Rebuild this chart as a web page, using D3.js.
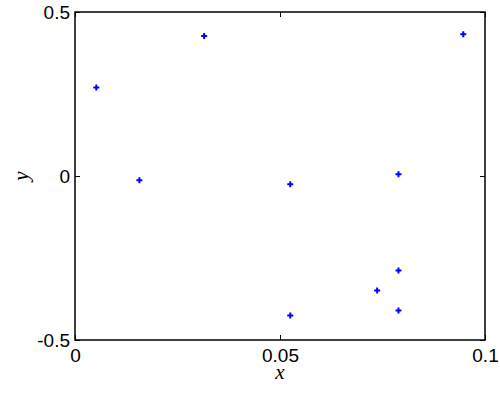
<!DOCTYPE html>
<html>
<head>
<meta charset="utf-8">
<script src="https://cdn.jsdelivr.net/npm/d3@7"></script>
<style>
  body { margin: 0; background: #fff; }
  svg { display: block; }
  .tick text { font-family: "Liberation Sans", Arial, sans-serif; font-size: 19px; fill: #000; }
  .label { font-family: "Liberation Serif", "DejaVu Serif", serif; font-style: italic; font-size: 21px; fill: #000; }
</style>
</head>
<body>
<div id="chart"></div>
<script>
// scatter values
const xValues = [0.0052, 0.0157, 0.0315, 0.0947, 0.0525, 0.0789, 0.0789, 0.0737, 0.0789, 0.0525];
const yValues = [0.270, -0.013, 0.427, 0.432, -0.025, 0.005, -0.288, -0.349, -0.410, -0.425];
const xTicks = [0, 0.05, 0.1];
const yTicks = [-0.5, 0, 0.5];
const xTickLabels = ["0", "0.05", "0.1"];
const yTickLabels = ["-0.5", "0", "0.5"];

const width = 500, height = 400;
const margin = {top: 12, right: 15, bottom: 60, left: 75};

const svg = d3.select("#chart").append("svg")
    .attr("width", width)
    .attr("height", height);

const xScale = d3.scaleLinear().domain([0, 0.1]).range([margin.left, width - margin.right]);
const yScale = d3.scaleLinear().domain([-0.5, 0.5]).range([height - margin.bottom, margin.top]);

const tickLen = 5;

// bottom axis, ticks point inward
svg.append("g")
    .attr("transform", `translate(0,${height - margin.bottom})`)
    .call(d3.axisBottom(xScale).tickValues(xTicks).tickSizeInner(-tickLen).tickSizeOuter(0).tickPadding(9)
        .tickFormat((d, i) => xTickLabels[i]))
    .call(g => g.select(".domain").remove());

// left axis
svg.append("g")
    .attr("transform", `translate(${margin.left},0)`)
    .call(d3.axisLeft(yScale).tickValues(yTicks).tickSizeInner(-tickLen).tickSizeOuter(0).tickPadding(5)
        .tickFormat((d, i) => yTickLabels[i]))
    .call(g => g.select(".domain").remove());

// top and right mirrored ticks, no labels
svg.append("g")
    .attr("transform", `translate(0,${margin.top})`)
    .call(d3.axisTop(xScale).tickValues(xTicks).tickSizeInner(-tickLen).tickSizeOuter(0).tickFormat(""))
    .call(g => g.select(".domain").remove());

svg.append("g")
    .attr("transform", `translate(${width - margin.right},0)`)
    .call(d3.axisRight(yScale).tickValues(yTicks).tickSizeInner(-tickLen).tickSizeOuter(0).tickFormat(""))
    .call(g => g.select(".domain").remove());

svg.selectAll(".tick line").attr("stroke", "#000").attr("stroke-width", 1);

// box
svg.append("rect")
    .attr("x", margin.left)
    .attr("y", margin.top)
    .attr("width", width - margin.left - margin.right)
    .attr("height", height - margin.top - margin.bottom)
    .attr("fill", "none")
    .attr("stroke", "#000")
    .attr("stroke-width", 1.5);

// points
const symbol = d3.symbol().type(d3.symbolCross).size(20);
svg.selectAll(".dot")
    .data(xValues.map((x, i) => ({x: x, y: yValues[i]})))
    .enter()
    .append("path")
    .attr("class", "dot")
    .attr("d", symbol)
    .attr("transform", d => `translate(${xScale(d.x)},${yScale(d.y)})`)
    .attr("fill", "#0000ff");

// axis labels
svg.append("text")
    .attr("class", "label")
    .attr("x", (margin.left + width - margin.right) / 2)
    .attr("y", 379)
    .attr("text-anchor", "middle")
    .text("x");

svg.append("text")
    .attr("class", "label")
    .attr("transform", `translate(28,${(margin.top + height - margin.bottom) / 2}) rotate(-90)`)
    .attr("text-anchor", "middle")
    .text("y");
</script>
</body>
</html>
